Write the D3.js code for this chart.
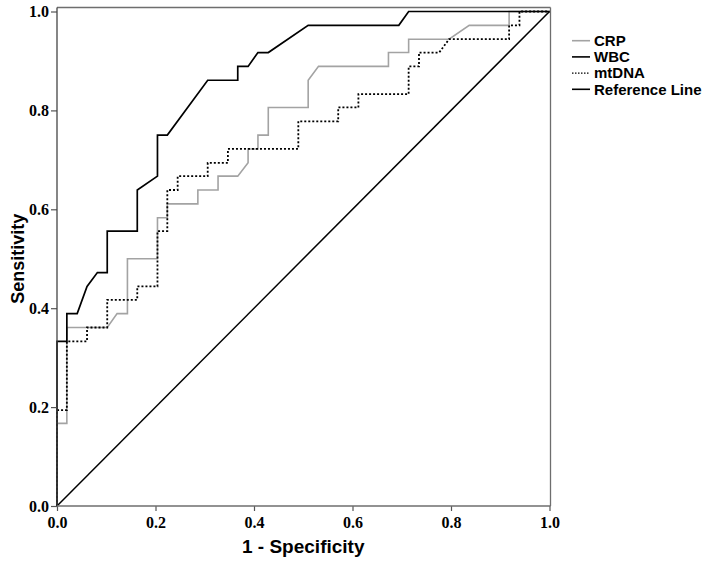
<!DOCTYPE html>
<html><head><meta charset="utf-8">
<script src="https://cdn.jsdelivr.net/npm/d3@7"></script>
<style>body{margin:0;background:#fff}</style>
</head><body>
<svg id="c" width="712" height="567"></svg>
<script>
const seriesNames = ["CRP", "WBC", "mtDNA", "Reference Line"];
const crpX = [0,0,0.020,0.020,0.102,0.122,0.143,0.143,0.204,0.204,0.224,0.224,0.286,0.286,0.327,0.327,0.367,0.388,0.388,0.408,0.408,0.429,0.429,0.510,0.510,0.531,0.673,0.673,0.714,0.714,0.796,0.837,0.918,0.918,1];
const crpY = [0,0.167,0.167,0.361,0.361,0.389,0.389,0.5,0.5,0.583,0.583,0.611,0.611,0.639,0.639,0.667,0.667,0.694,0.722,0.722,0.75,0.75,0.806,0.806,0.861,0.889,0.889,0.917,0.917,0.944,0.944,0.972,0.972,1,1];
const wbcX = [0,0,0.020,0.020,0.041,0.061,0.082,0.102,0.102,0.163,0.163,0.204,0.204,0.224,0.306,0.367,0.367,0.388,0.408,0.429,0.510,0.694,0.714,1];
const wbcY = [0,0.333,0.333,0.389,0.389,0.444,0.472,0.472,0.556,0.556,0.639,0.667,0.75,0.75,0.861,0.861,0.889,0.889,0.917,0.917,0.972,0.972,1,1];
const mtX = [0,0,0.020,0.020,0.061,0.061,0.102,0.102,0.163,0.163,0.204,0.204,0.224,0.224,0.245,0.245,0.306,0.306,0.347,0.347,0.490,0.490,0.571,0.571,0.612,0.612,0.714,0.714,0.735,0.735,0.776,0.796,0.918,0.918,0.939,0.939,1];
const mtY = [0,0.194,0.194,0.333,0.333,0.361,0.361,0.417,0.417,0.444,0.444,0.556,0.556,0.639,0.639,0.667,0.667,0.694,0.694,0.722,0.722,0.778,0.778,0.806,0.806,0.833,0.833,0.889,0.889,0.917,0.917,0.944,0.944,0.972,0.972,1,1];
const refX = [0, 1];
const refY = [0, 1];
const tickValues = [0, 0.2, 0.4, 0.6, 0.8, 1.0];

const svg = d3.select("#c");
const x = d3.scaleLinear().domain([0, 1]).range([57, 549.5]);
const y = d3.scaleLinear().domain([0, 1]).range([506, 11.5]);
const frameTop = 7.5, frameRight = 550.5;

// frame
const frame = svg.append("g").attr("stroke", "#6e6e6e").attr("stroke-width", 1.3).attr("fill", "none");
frame.append("line").attr("x1", x(0)).attr("x2", frameRight).attr("y1", frameTop).attr("y2", frameTop);
frame.append("line").attr("x1", frameRight).attr("x2", frameRight).attr("y1", frameTop).attr("y2", y(0));

const line = d3.line().x(d => x(d[0])).y(d => y(d[1]));
const zip = (a, b) => a.map((v, i) => [v, b[i]]);

const series = [
  {name: "CRP", pts: zip(crpX, crpY), color: "#a3a3a3", w: 1.6, dash: null},
  {name: "WBC", pts: zip(wbcX, wbcY), color: "#000", w: 1.7, dash: null},
  {name: "mtDNA", pts: zip(mtX, mtY), color: "#000", w: 1.8, dash: "2,2"},
  {name: "Reference Line", pts: zip(refX, refY), color: "#000", w: 1.5, dash: null}
];
series.forEach(s => {
  svg.append("path").attr("d", line(s.pts)).attr("fill", "none")
    .attr("stroke", s.color).attr("stroke-width", s.w)
    .attr("stroke-dasharray", s.dash);
});

// axes
const fmt = d3.format(".1f");
const ax = svg.append("g").attr("transform", `translate(0,${y(0)})`)
  .call(d3.axisBottom(x).tickValues(tickValues).tickFormat(fmt).tickSizeOuter(0).tickSize(5).tickPadding(6));
const ay = svg.append("g").attr("transform", `translate(${x(0)},0)`)
  .call(d3.axisLeft(y).tickValues(tickValues).tickFormat(fmt).tickSizeOuter(0).tickSize(6).tickPadding(2));
[ax, ay].forEach(g => {
  g.select(".domain").remove();
  g.selectAll(".tick line").attr("stroke", "#555").attr("stroke-width", 1.2);
  g.selectAll(".tick text").attr("font-family", "'Liberation Serif', 'Times New Roman', serif")
    .attr("font-weight", "bold").attr("font-size", 16).attr("fill", "#000");
});
ay.selectAll(".tick text").attr("dy", "0.33em");
svg.append("line").attr("x1", x(0)).attr("x2", x(0)).attr("y1", frameTop).attr("y2", y(0)).attr("stroke", "#444").attr("stroke-width", 1.3);
svg.append("line").attr("x1", x(0)).attr("x2", frameRight).attr("y1", y(0)).attr("y2", y(0)).attr("stroke", "#6e6e6e").attr("stroke-width", 1.3);

// axis titles
svg.append("text").attr("x", (x(0) + x(1)) / 2).attr("y", 553).attr("text-anchor", "middle")
  .attr("font-family", "'Liberation Sans', Arial, sans-serif").attr("font-weight", "bold").attr("font-size", 19)
  .text("1 - Specificity");
svg.append("text").attr("transform", `translate(24,${(y(0) + y(1)) / 2}) rotate(-90)`).attr("text-anchor", "middle")
  .attr("font-family", "'Liberation Sans', Arial, sans-serif").attr("font-weight", "bold").attr("font-size", 18)
  .text("Sensitivity");

// legend
const lg = svg.append("g");
series.forEach((s, i) => {
  const cy = 40.7 + i * 16.2;
  lg.append("line").attr("x1", 572).attr("x2", 590).attr("y1", cy).attr("y2", cy)
    .attr("stroke", s.color).attr("stroke-width", s.dash ? 1.3 : 1.6).attr("stroke-dasharray", s.dash ? "1.5,1.5" : null);
  lg.append("text").attr("x", 594).attr("y", cy + 5.3)
    .attr("font-family", "'Liberation Sans', Arial, sans-serif").attr("font-weight", "bold").attr("font-size", 15)
    .text(seriesNames[i]);
});
</script>
</body></html>
